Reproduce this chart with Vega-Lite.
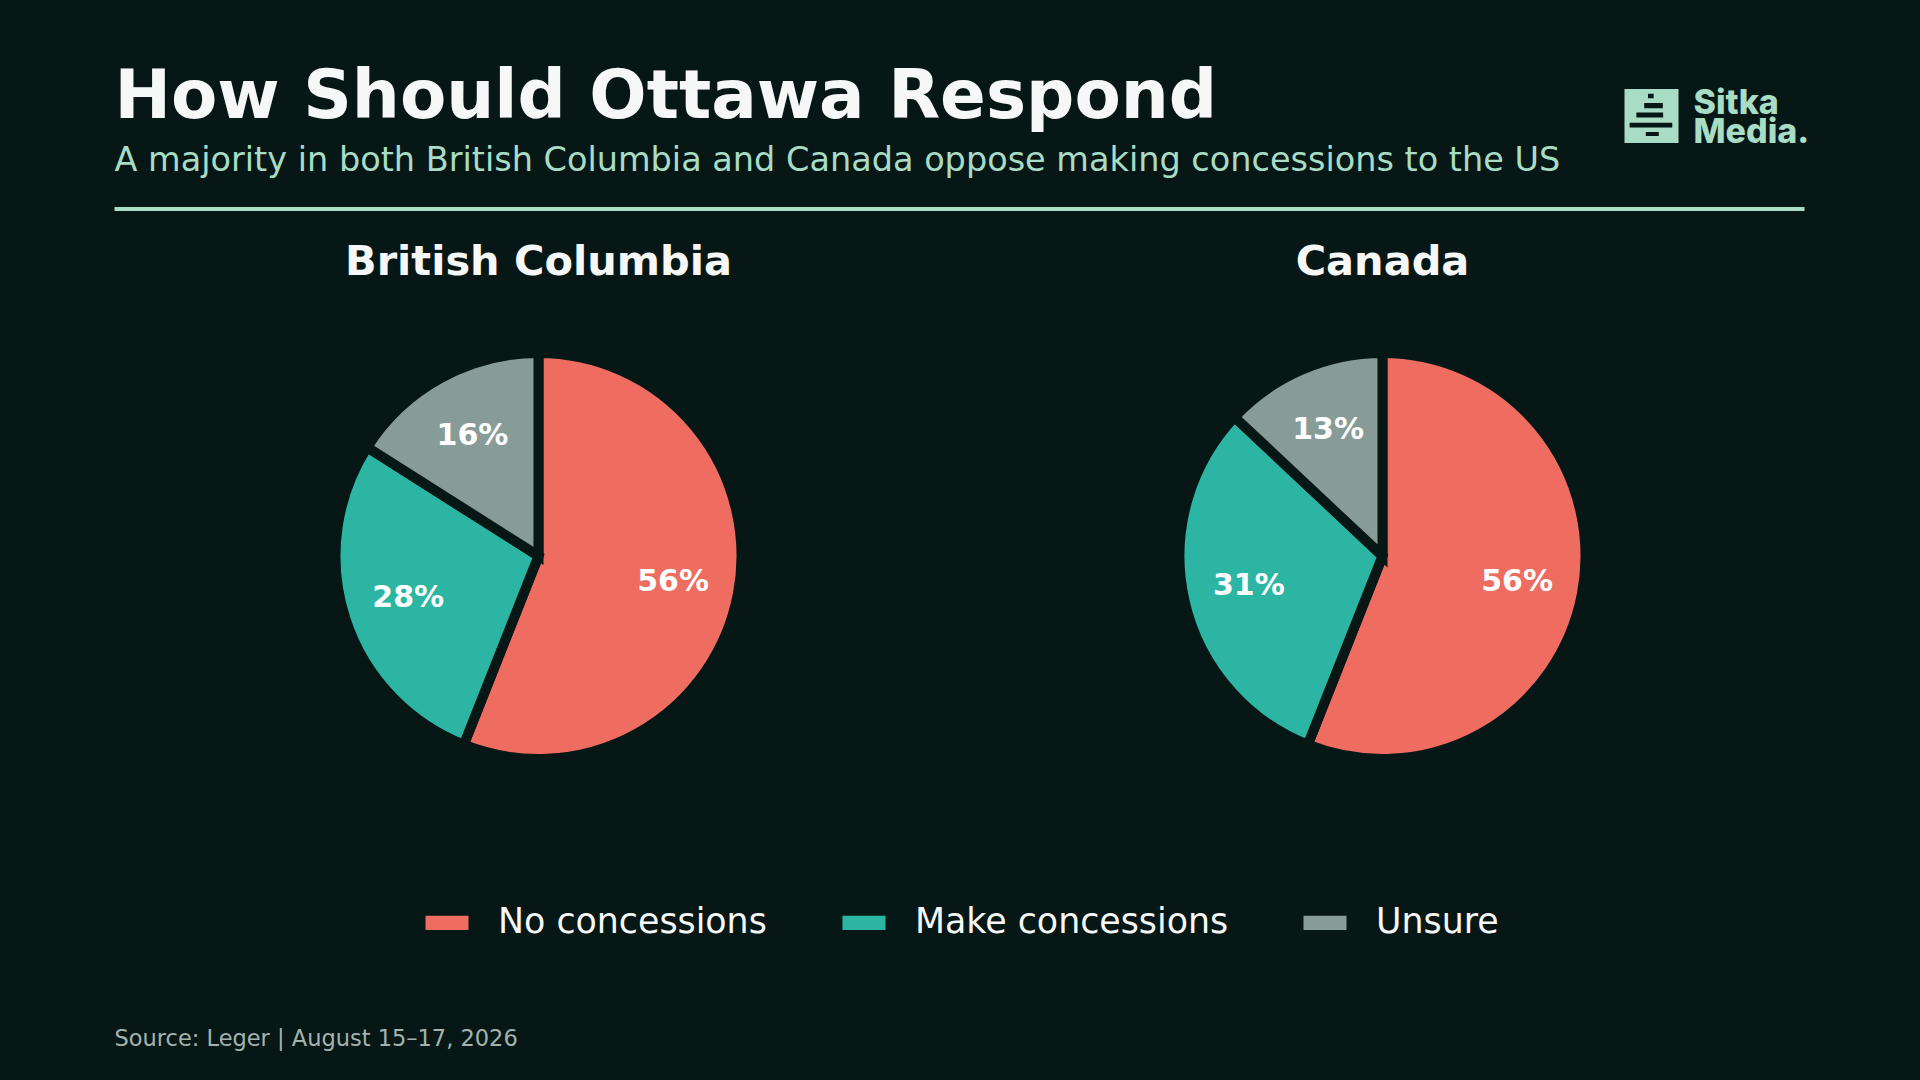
{
  "$schema": "https://vega.github.io/schema/vega-lite/v6.json",
  "background": "#071716",
  "padding": {"left": 112.5, "right": 117.5, "top": 64, "bottom": 42.5},
  "config": {"view": {"stroke": null}, "font": "DejaVu Sans"},
  "datasets": {
    "poll": [
      {"region": "British Columbia", "response": "No concessions", "share": 0.56, "order": 1},
      {"region": "British Columbia", "response": "Make concessions", "share": 0.28, "order": 2},
      {"region": "British Columbia", "response": "Unsure", "share": 0.16, "order": 3},
      {"region": "Canada", "response": "No concessions", "share": 0.56, "order": 1},
      {"region": "Canada", "response": "Make concessions", "share": 0.31, "order": 2},
      {"region": "Canada", "response": "Unsure", "share": 0.13, "order": 3}
    ]
  },
  "spacing": 30,
  "vconcat": [
    {
      "spacing": 0,
      "hconcat": [
        {
          "width": 1510, "height": 112,
          "data": {"values": []},
          "mark": {"type": "rule"},
          "encoding": {},
          "title": {
            "text": "How Should Ottawa Respond",
            "subtitle": "A majority in both British Columbia and Canada oppose making concessions to the US",
            "anchor": "start", "fontSize": 67.5, "fontWeight": "bold", "color": "#f6f8f7", "font": "DejaVu Sans",
            "subtitleFont": "DejaVu Sans", "subtitleFontSize": 33.5, "subtitleColor": "#a8dcc5", "subtitleFontWeight": "normal",
            "subtitlePadding": 12, "offset": -113
          }
        },
        {
          "width": 54, "height": 102,
          "data": {"values": [{}]},
          "layer": [
            {"mark": {"type": "point", "shape": "square", "filled": true, "size": 2916, "color": "#a8dcc5", "opacity": 1, "strokeWidth": 0}, "encoding": {}},
            {"mark": {"type": "point", "shape": "M-0.13,-0.82H0.08V-0.66H-0.13Z M-0.27,-0.48H0.42V-0.29H-0.27Z M-0.56,-0.13H0.43V0.06H-0.56Z M-0.81,0.25H0.77V0.43H-0.81Z M-0.21,0.59H0.27V0.74H-0.21Z", "filled": true, "size": 2916, "color": "#071716", "opacity": 1, "strokeWidth": 0}, "encoding": {}}
          ]
        },
        {
          "width": 30, "height": 97,
          "data": {"values": [{"brand": "Sitka\nMedia."}]},
          "mark": {"type": "text", "align": "left", "baseline": "alphabetic", "lineBreak": "\n", "lineHeight": 29.4, "font": "Inter", "fontWeight": 800, "fontSize": 34, "color": "#a8dcc5"},
          "encoding": {"text": {"field": "brand", "type": "nominal"}}
        }
      ]
    },
    {
      "width": 1690, "height": 1,
      "data": {"values": [{}]},
      "mark": {"type": "rule", "color": "#a8dcc5", "strokeWidth": 4},
      "encoding": {"y": {"datum": 0, "type": "quantitative", "axis": null}}
    },
    {
      "spacing": 0,
      "hconcat": [
        {
          "width": 848, "height": 420,
          "title": {"text": "British Columbia", "fontSize": 41.5, "fontWeight": "bold", "color": "#f6f8f7", "offset": 50},
          "data": {"name": "poll"},
          "transform": [{"filter": "datum.region === 'British Columbia'"}],
          "encoding": {
            "theta": {"field": "share", "type": "quantitative", "stack": true},
            "order": {"field": "order", "type": "quantitative"}
          },
          "layer": [
            {
              "mark": {"type": "arc", "outerRadius": 203, "stroke": "#071716", "strokeWidth": 10},
              "encoding": {
                "color": {
                  "field": "response", "type": "nominal",
                  "scale": {"domain": ["No concessions", "Make concessions", "Unsure"], "range": ["#ee6c60", "#2db5a3", "#879b97"]},
                  "legend": {"title": null, "orient": "none", "legendX": 311, "legendY": 836, "direction": "horizontal", "columns": 3,
                    "symbolType": "M-1,-0.33H1V0.33H-1Z", "symbolSize": 1849, "symbolStrokeWidth": 0, "symbolOpacity": 1,
                    "labelFontSize": 34.8, "labelColor": "#f6f8f7", "labelFont": "DejaVu Sans", "labelOffset": 29.5, "columnPadding": 75, "labelLimit": 600}
                }
              }
            },
            {
              "mark": {"type": "text", "radius": 137, "dy": 0, "fontSize": 30, "fontWeight": "bold", "color": "#ffffff"},
              "encoding": {
                "text": {"field": "share", "type": "quantitative", "format": ".0%"},
                "detail": {"field": "response", "type": "nominal"}
              }
            }
          ]
        },
        {
          "width": 840, "height": 420,
          "title": {"text": "Canada", "fontSize": 41.5, "fontWeight": "bold", "color": "#f6f8f7", "offset": 50},
          "data": {"name": "poll"},
          "transform": [{"filter": "datum.region === 'Canada'"}],
          "encoding": {
            "theta": {"field": "share", "type": "quantitative", "stack": true},
            "order": {"field": "order", "type": "quantitative"}
          },
          "layer": [
            {
              "mark": {"type": "arc", "outerRadius": 203, "stroke": "#071716", "strokeWidth": 10},
              "encoding": {
                "color": {
                  "field": "response", "type": "nominal",
                  "scale": {"domain": ["No concessions", "Make concessions", "Unsure"], "range": ["#ee6c60", "#2db5a3", "#879b97"]},
                  "legend": {"title": null, "orient": "none", "legendX": 311, "legendY": 836, "direction": "horizontal", "columns": 3,
                    "symbolType": "M-1,-0.33H1V0.33H-1Z", "symbolSize": 1849, "symbolStrokeWidth": 0, "symbolOpacity": 1,
                    "labelFontSize": 34.8, "labelColor": "#f6f8f7", "labelFont": "DejaVu Sans", "labelOffset": 29.5, "columnPadding": 75, "labelLimit": 600}
                }
              }
            },
            {
              "mark": {"type": "text", "radius": 137, "dy": 0, "fontSize": 30, "fontWeight": "bold", "color": "#ffffff"},
              "encoding": {
                "text": {"field": "share", "type": "quantitative", "format": ".0%"},
                "detail": {"field": "response", "type": "nominal"}
              }
            }
          ]
        }
      ]
    },
    {
      "width": 1690, "height": 209,
      "data": {"values": []},
      "mark": {"type": "rule"},
      "encoding": {},
      "title": {"text": "Source: Leger | August 15–17, 2026", "orient": "bottom", "anchor": "start", "fontSize": 22.5, "fontWeight": "normal", "color": "#a3b3ae", "offset": 10}
    }
  ]
}
